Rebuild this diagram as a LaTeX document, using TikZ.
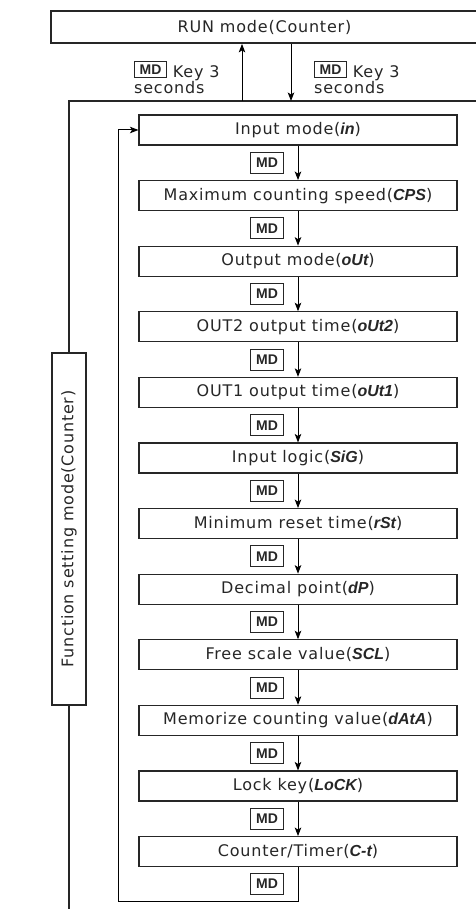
\documentclass[tikz,border=0pt]{standalone}
\usepackage{fontspec}
\setmainfont{DejaVu Sans}[LetterSpace=5]
\newfontfamily\keyfont{Liberation Sans}
\usetikzlibrary{arrows.meta}
\newcommand{\seg}[1]{{\keyfont\bfseries\itshape #1}}
\newcommand{\mdinline}{\smash{\raisebox{3pt}{\setlength{\fboxsep}{3pt}\setlength{\fboxrule}{0.9pt}\fbox{\makebox[25pt]{\fontsize{14}{16}\keyfont\bfseries MD}}}}}
\tikzstyle{runmode} = [rectangle, minimum width=427pt, minimum height=32pt, text centered, draw=black!85, line width=1.8pt]
\tikzstyle{mode} = [rectangle, minimum width=318pt, minimum height=30pt, text centered, draw=black!85, line width=1.1pt]
\tikzstyle{funcmode} = [rectangle, rotate=90, minimum width=352pt, minimum height=34pt, text centered, draw=black!85, line width=2pt]
\tikzstyle{mdbox} = [rectangle, minimum width=33pt, minimum height=21pt, inner sep=1pt, draw=black!85, line width=0.9pt, font=\fontsize{14}{16}\keyfont\bfseries]
\tikzstyle{keytext} = [align=left, anchor=north west, inner sep=0pt]
\tikzstyle{arrow} = [line width=1pt, ->, >={Stealth[length=8.5pt,width=6.5pt,inset=2pt]}]
\tikzstyle{frame} = [line width=2.3pt, draw=black!85]
\begin{document}
\begin{tikzpicture}[x=1pt, y=1pt, node distance=65.6pt, text=black!85, font=\fontsize{16}{16.5}\selectfont]
\useasboundingbox (0,0) rectangle (475,-909);

\node (run) [runmode] at (264.5,-27) {RUN mode(Counter)};
\node (fsm) [funcmode] at (69,-529) {Function setting mode(Counter)};

\coordinate (frbottom) at (69,-909);
\coordinate (frcorner) at (69,-101);
\coordinate (frright) at (480,-101);
\coordinate (upfoot) at (242,-101);
\coordinate (downfoot) at (291,-101);
\coordinate (loop) at (118,-901);

\node (keyup) [keytext] at (134,-65) {\mdinline\ Key 3\\seconds};
\node (keydown) [keytext] at (314,-65) {\mdinline\ Key 3\\seconds};

\node (in) [mode] at (298,-130) {Input mode(\seg{in})};
\node (cps) [mode, below of=in] {Maximum counting speed(\seg{CPS})};
\node (out) [mode, below of=cps] {Output mode(\seg{oUt})};
\node (out2) [mode, below of=out] {OUT2 output time(\seg{oUt2})};
\node (out1) [mode, below of=out2] {OUT1 output time(\seg{oUt1})};
\node (sig) [mode, below of=out1] {Input logic(\seg{SiG})};
\node (rst) [mode, below of=sig] {Minimum reset time(\seg{rSt})};
\node (dp) [mode, below of=rst] {Decimal point(\seg{dP})};
\node (scl) [mode, below of=dp] {Free scale value(\seg{SCL})};
\node (data) [mode, below of=scl] {Memorize counting value(\seg{dAtA})};
\node (lock) [mode, below of=data] {Lock key(\seg{LoCK})};
\node (ct) [mode, below of=lock] {Counter/Timer(\seg{C-t})};

\draw [frame] (frbottom) -- (fsm);
\draw [frame] (fsm) -- (frcorner) -- (frright);
\draw [arrow] (upfoot) -- (upfoot |- run.south);
\draw [arrow] (run.south -| downfoot) -- (downfoot);

\draw [arrow] (in) -- (cps) node[midway, left=14pt, mdbox]{MD};
\draw [arrow] (cps) -- (out) node[midway, left=14pt, mdbox]{MD};
\draw [arrow] (out) -- (out2) node[midway, left=14pt, mdbox]{MD};
\draw [arrow] (out2) -- (out1) node[midway, left=14pt, mdbox]{MD};
\draw [arrow] (out1) -- (sig) node[midway, left=14pt, mdbox]{MD};
\draw [arrow] (sig) -- (rst) node[midway, left=14pt, mdbox]{MD};
\draw [arrow] (rst) -- (dp) node[midway, left=14pt, mdbox]{MD};
\draw [arrow] (dp) -- (scl) node[midway, left=14pt, mdbox]{MD};
\draw [arrow] (scl) -- (data) node[midway, left=14pt, mdbox]{MD};
\draw [arrow] (data) -- (lock) node[midway, left=14pt, mdbox]{MD};
\draw [arrow] (lock) -- (ct) node[midway, left=14pt, mdbox]{MD};
\draw [arrow] (ct.south) |- (loop) node[pos=0.25, left=14pt, mdbox]{MD} |- (in.west);

\end{tikzpicture}
\end{document}
